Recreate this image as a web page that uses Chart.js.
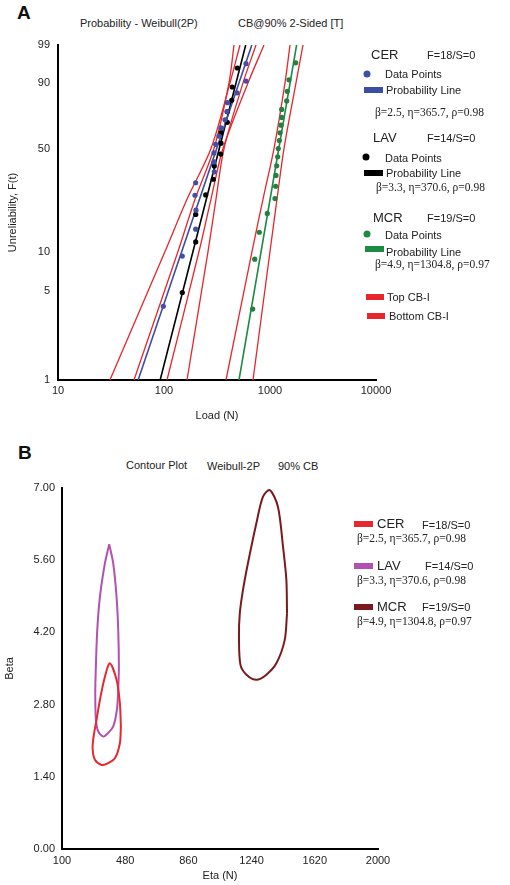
<!DOCTYPE html>
<html>
<head>
<meta charset="utf-8">
<script src="https://cdn.jsdelivr.net/npm/chart.js@4"></script>
<style>
  body { margin: 0; width: 510px; height: 885px; position: relative; background: #fff; overflow: hidden;
         font-family: "Liberation Sans", Arial, sans-serif; color: #222; }
  .box { position: absolute; left: 0; width: 510px; }
  .t { position: absolute; white-space: nowrap; line-height: 14px; transform: translateY(-50%); font-size: 11px; }
  .big { font-size: 13px; }
  .serif { font-family: "Liberation Serif", "Times New Roman", serif; font-size: 11.5px; }
  .lab { font-weight: bold; font-size: 19px; line-height: 22px; color: #111; }
  .sw { position: absolute; height: 6px; transform: translateY(-50%); }
  .dot { position: absolute; width: 7px; height: 7px; border-radius: 50%; transform: translate(-50%, -50%); }
</style>
</head>
<body>

<div class="t lab" style="left:17px;top:13px">A</div>
<div class="t" style="left:80px;top:23px">Probability - Weibull(2P)</div>
<div class="t" style="left:238px;top:23px">CB@90% 2-Sided [T]</div>

<div class="box" style="top:0;height:430px"><canvas id="prob"></canvas></div>

<!-- legend A -->
<div class="t big" style="left:371px;top:55px">CER</div>
<div class="t" style="left:427px;top:55px">F=18/S=0</div>
<div class="dot" style="left:367px;top:74px;background:#3d50a0"></div>
<div class="t" style="left:385px;top:74px">Data Points</div>
<div class="sw" style="left:364px;top:90px;width:19px;background:#3b4ea3"></div>
<div class="t" style="left:386px;top:90px">Probability Line</div>
<div class="t serif" style="left:375px;top:112px">β=2.5, η=365.7, ρ=0.98</div>

<div class="t big" style="left:373px;top:138px">LAV</div>
<div class="t" style="left:427px;top:138px">F=14/S=0</div>
<div class="dot" style="left:366px;top:157px;background:#000"></div>
<div class="t" style="left:385px;top:158px">Data Points</div>
<div class="sw" style="left:364px;top:173px;width:19px;background:#000"></div>
<div class="t" style="left:386px;top:173px">Probability Line</div>
<div class="t serif" style="left:376px;top:187px">β=3.3, η=370.6, ρ=0.98</div>

<div class="t big" style="left:373px;top:218px">MCR</div>
<div class="t" style="left:427px;top:218px">F=19/S=0</div>
<div class="dot" style="left:367px;top:234px;background:#1e8a44"></div>
<div class="t" style="left:385px;top:235px">Data Points</div>
<div class="sw" style="left:365px;top:249px;width:19px;background:#1e8a44"></div>
<div class="t" style="left:386px;top:252px">Probability Line</div>
<div class="t serif" style="left:375px;top:264px">β=4.9, η=1304.8, ρ=0.97</div>

<div class="sw" style="left:366px;top:297px;width:18px;background:#e8252b"></div>
<div class="t" style="left:387px;top:297px">Top CB-I</div>
<div class="sw" style="left:367px;top:316px;width:18px;background:#e8252b"></div>
<div class="t" style="left:389px;top:316px">Bottom CB-I</div>

<div class="t lab" style="left:18px;top:453px">B</div>
<div class="t" style="left:126px;top:465px">Contour Plot</div>
<div class="t" style="left:207px;top:466px">Weibull-2P</div>
<div class="t" style="left:278px;top:466px">90% CB</div>

<div class="box" style="top:440px;height:445px"><canvas id="cont"></canvas></div>

<!-- legend B -->
<div class="sw" style="left:354px;top:524px;width:19px;background:#e52a2f"></div>
<div class="t big" style="left:377px;top:524px">CER</div>
<div class="t" style="left:422px;top:525px">F=18/S=0</div>
<div class="t serif" style="left:357px;top:538px">β=2.5, η=365.7, ρ=0.98</div>
<div class="sw" style="left:354px;top:566px;width:19px;background:#b252b0"></div>
<div class="t big" style="left:377px;top:566px">LAV</div>
<div class="t" style="left:425px;top:566px">F=14/S=0</div>
<div class="t serif" style="left:357px;top:580px">β=3.3, η=370.6, ρ=0.98</div>
<div class="sw" style="left:354px;top:607px;width:19px;background:#7b1a1e"></div>
<div class="t big" style="left:377px;top:607px">MCR</div>
<div class="t" style="left:422px;top:607px">F=19/S=0</div>
<div class="t serif" style="left:357px;top:621px">β=4.9, η=1304.8, ρ=0.97</div>

<script>
// --- A: Weibull probability plot ---
const fTicks = [1, 5, 10, 50, 90, 99];
const loadTicks = [10, 100, 1000, 10000];

// median-rank unreliability (%) and load (N) of each failure
const cerF = [3.80, 9.24, 14.67, 20.11, 25.54, 30.98, 36.41, 41.85, 47.28, 52.72, 58.15, 63.59, 69.02, 74.46, 79.89, 85.33, 90.76, 96.20];
const cerLoad = [98.5, 148.8, 199.1, 200.4, 196.1, 199.1, 298.2, 296.2, 296.2, 307.4, 330.3, 344.9, 376.3, 393.0, 397.2, 488.3, 593.8, 593.8];
const lavF = [4.86, 11.81, 18.75, 25.69, 32.64, 39.58, 46.53, 53.47, 60.42, 67.36, 74.31, 81.25, 88.19, 95.14];
const lavLoad = [148.8, 199.1, 199.1, 247.4, 291.8, 298.2, 342.7, 344.9, 344.9, 395.5, 395.5, 435.1, 440.8, 491.5];
const mcrF = [3.61, 8.76, 13.92, 19.07, 24.23, 29.38, 34.54, 39.69, 44.85, 50.00, 55.15, 60.31, 65.46, 70.62, 75.77, 80.93, 86.08, 91.24, 96.39];
const mcrLoad = [686.9, 717.4, 792.5, 943.0, 1115, 1132, 1139, 1157, 1182, 1197, 1224, 1243, 1270, 1289, 1289, 1437, 1456, 1511, 1748];

// probability lines (ends at F=1% and F=99%)
const lineF = [1, 99];
const cerLine = [57, 674];
const lavLine = [92, 590];
const mcrLine = [510, 1782];

// 90% confidence bounds
const boundF = [1, 10, 24, 50, 90, 99];
const cerLow = [30.9, 102.2, 164.8, 277.6, 419.4, 521.2];
const cerHigh = [106.7, 213.9, 277.6, 360.3, 620.2, 877.9];
const lavLow = [52.1, 135.5, 196.1, 296.2, 410.4, 457.5];
const lavHigh = [164.8, 260.1, 309.4, 368.1, 556.3, 737.9];
const mcrLow = [384.6, 676.4, 859.0, 1090.7, 1385, 1544];
const mcrHigh = [691.4, 1000, 1164, 1355, 1759, 2048];

// --- B: contour plot ---
const etaTicks = [100, 480, 860, 1240, 1620, 2000];
const betaTicks = [0, 1.4, 2.8, 4.2, 5.6, 7.0];
const cerEta = [454, 448, 418, 368, 338, 298, 284, 292, 308, 328, 358, 388, 428, 448];
const cerBeta = [2.38, 2.05, 1.76, 1.65, 1.63, 1.73, 1.96, 2.22, 2.51, 2.89, 3.34, 3.60, 3.28, 2.83];
const lavEta = [384, 408, 428, 438, 442, 438, 430, 408, 368, 348, 318, 304, 300, 304, 312, 328, 358];
const lavBeta = [5.91, 5.54, 4.89, 4.25, 3.54, 3.09, 2.70, 2.38, 2.22, 2.18, 2.28, 2.51, 3.02, 3.57, 4.25, 4.89, 5.54];
const mcrEta = [1453, 1439, 1389, 1329, 1269, 1209, 1173, 1164, 1169, 1188, 1218, 1269, 1308, 1349, 1398, 1429, 1449];
const mcrBeta = [4.57, 4.05, 3.60, 3.38, 3.28, 3.38, 3.57, 4.12, 4.57, 5.02, 5.54, 6.32, 6.83, 6.96, 6.64, 5.86, 5.22];

const RED = "#e8252b";
const FONT = { family: "'Liberation Sans', Arial, sans-serif", size: 11 };

// weibull paper: y = ln(-ln(1-F))
const wb = f => Math.log(-Math.log(1 - f / 100));
const pts = (xs, fs) => xs.map((x, i) => ({ x: x, y: wb(fs[i]) }));
const loop = (xs, ys) => {
  const p = xs.map((x, i) => ({ x: x, y: ys[i] }));
  return p.concat([p[0]]);
};

function curve(data, color, width) {
  return { data: data, showLine: true, borderColor: color, borderWidth: width, pointRadius: 0, tension: 0.3, fill: false };
}
function dots(data, color) {
  return { data: data, showLine: false, pointRadius: 2.6, pointBackgroundColor: color, pointBorderWidth: 0 };
}

new Chart(document.getElementById("prob"), {
  type: "scatter",
  data: {
    datasets: [
      dots(pts(cerLoad, cerF), "#4150a2"),
      dots(pts(lavLoad, lavF), "#000"),
      dots(pts(mcrLoad, mcrF), "#23803f"),
      curve(pts(cerLine, lineF), "#3b4ea3", 1.6),
      curve(pts(lavLine, lineF), "#000", 1.6),
      curve(pts(mcrLine, lineF), "#1e8a44", 1.6),
      curve(pts(cerLow, boundF), RED, 1.3),
      curve(pts(cerHigh, boundF), RED, 1.3),
      curve(pts(lavLow, boundF), RED, 1.3),
      curve(pts(lavHigh, boundF), RED, 1.3),
      curve(pts(mcrLow, boundF), RED, 1.3),
      curve(pts(mcrHigh, boundF), RED, 1.3),
    ],
  },
  options: {
    responsive: true, maintainAspectRatio: false, animation: false,
    layout: { padding: { top: 45, right: 134, left: 0, bottom: 0 } },
    plugins: { legend: { display: false }, tooltip: { enabled: false } },
    scales: {
      x: {
        type: "logarithmic", min: 10, max: 10000,
        grid: { display: false, drawTicks: false },
        border: { color: "#000", width: 2 },
        afterBuildTicks: (ax) => { ax.ticks = loadTicks.map(v => ({ value: v })); },
        afterFit: (ax) => { ax.height = 50; },
        ticks: { autoSkip: false, maxRotation: 0, padding: 4, color: "#222", font: FONT, callback: (v) => String(v) },
        title: { display: true, text: "Load (N)", color: "#222", font: FONT, padding: { top: 0, bottom: 7 } },
      },
      y: {
        min: wb(1), max: wb(99),
        grid: { display: false, drawTicks: false },
        border: { color: "#000", width: 2 },
        afterBuildTicks: (ax) => { ax.ticks = fTicks.map(f => ({ value: wb(f) })); },
        afterFit: (ax) => { ax.width = 58; },
        ticks: { autoSkip: false, padding: 8, color: "#222", font: FONT, callback: (v, i) => String(fTicks[i]) },
        title: { display: true, text: "Unreliability, F(t)", color: "#222", font: FONT, padding: { top: 6, bottom: 0 } },
      },
    },
  },
});

new Chart(document.getElementById("cont"), {
  type: "scatter",
  data: {
    datasets: [
      curve(loop(cerEta, cerBeta), "#e52a2f", 2),
      curve(loop(lavEta, lavBeta), "#b252b0", 2),
      curve(loop(mcrEta, mcrBeta), "#7b1a1e", 2),
    ],
  },
  options: {
    responsive: true, maintainAspectRatio: false, animation: false,
    layout: { padding: { top: 48, right: 132, left: 0, bottom: 0 } },
    plugins: { legend: { display: false }, tooltip: { enabled: false } },
    scales: {
      x: {
        min: 100, max: 2000,
        grid: { display: false, drawTicks: false },
        border: { color: "#000", width: 2 },
        afterBuildTicks: (ax) => { ax.ticks = etaTicks.map(v => ({ value: v })); },
        afterFit: (ax) => { ax.height = 36; },
        ticks: { autoSkip: false, maxRotation: 0, padding: 5, color: "#222", font: FONT, callback: (v) => String(v) },
        title: { display: true, text: "Eta (N)", color: "#222", font: FONT, padding: { top: 0, bottom: 2 } },
      },
      y: {
        min: 0, max: 7,
        grid: { display: false, drawTicks: false },
        border: { color: "#000", width: 2 },
        afterBuildTicks: (ax) => { ax.ticks = betaTicks.map(v => ({ value: v })); },
        afterFit: (ax) => { ax.width = 62; },
        ticks: { autoSkip: false, padding: 7, color: "#222", font: FONT, callback: (v) => Number(v).toFixed(2) },
        title: { display: true, text: "Beta", color: "#222", font: FONT, padding: { top: 3, bottom: 0 } },
      },
    },
  },
});
</script>
</body>
</html>
